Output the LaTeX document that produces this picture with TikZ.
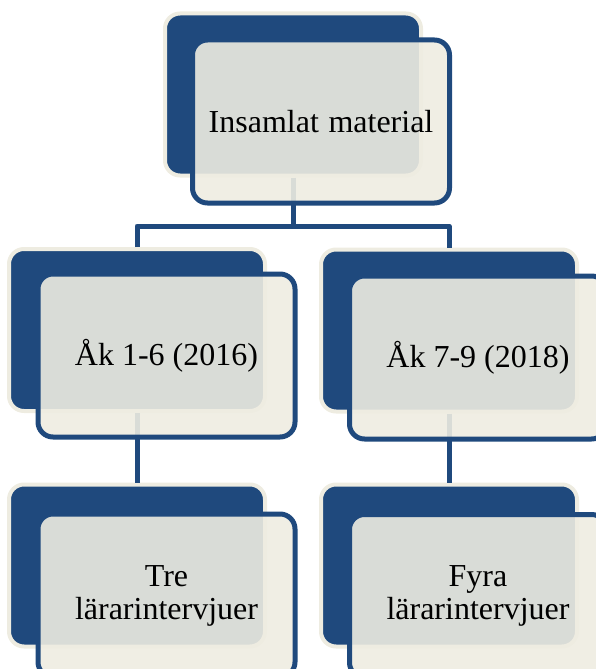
\documentclass[tikz,border=0pt]{standalone}
\usepackage{fontspec}
\setmainfont{Liberation Serif}
\definecolor{navy}{HTML}{1F497D}
\definecolor{cream}{HTML}{EEECE1}
\tikzset{
  backbox/.style={rectangle, rounded corners=15pt, fill=navy, draw=cream,
    line width=4pt, minimum width=256pt, minimum height=162pt, inner sep=0pt},
  frontbox/.style={rectangle, rounded corners=15pt, fill=cream, fill opacity=0.9,
    text opacity=1, draw=navy, line width=5pt, minimum width=257pt,
    minimum height=163pt, inner sep=0pt, align=center, text=black,
    font=\fontsize{32}{33}\selectfont},
  conn/.style={draw=navy, line width=5pt, line join=round},
}
\begin{document}
\begin{tikzpicture}[x=1pt,y=1pt]
\useasboundingbox (0,0) rectangle (596,-669);
\clip (0,0) rectangle (596,-669);

% back panels
\node[backbox] (topback)  at (293,-94.5) {};
\node[backbox] (midLback) at (137,-330) {};
\node[backbox] (midRback) at (449,-330.5) {};
\node[backbox] (botLback) at (137,-565.5) {};
\node[backbox] (botRback) at (449,-565.5) {};

% connectors
\coordinate (bus) at (293,-226);
\draw[conn] (topback.south) -- (bus);
\draw[conn] (midLback.north) |- (bus) -| (midRback.north);
\draw[conn] (midLback.south) -- (botLback.north);
\draw[conn] (midRback.south) -- (botRback.north);

% front panels with the labels
\node[frontbox] (topfront)  at (321,-121.5) {Insamlat\hspace{0.05em} material};
\node[frontbox] (midLfront) at (166.5,-355.5) {Åk 1-6 (2016)};
\node[frontbox] (midRfront) at (478,-357.5) {Åk 7-9 (2018)};
\node[frontbox] (botLfront) at (166.5,-595.5) {Tre\\lärarintervjuer};
\node[frontbox] (botRfront) at (478,-596) {Fyra\\lärarintervjuer};
\end{tikzpicture}
\end{document}
